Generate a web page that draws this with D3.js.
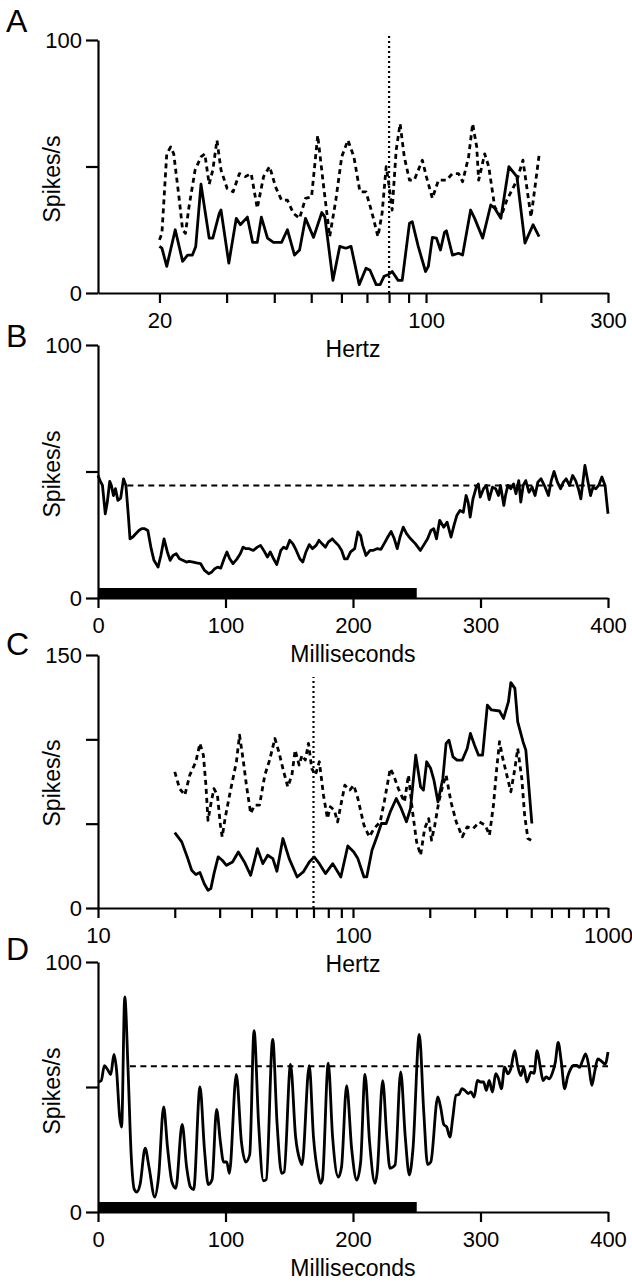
<!DOCTYPE html>
<html><head><meta charset="utf-8">
<script src="https://cdn.jsdelivr.net/npm/d3@7"></script>
<style>
body{margin:0;background:#fff}
text{font-family:"Liberation Sans",Arial,Helvetica,sans-serif;fill:#000}
</style>
</head><body>
<svg id="chart" width="632" height="1282"></svg>
<script>
// ---------------- DATA ----------------
// Panel A: rate (spikes/s) vs modulation frequency (Hz)
const panelA_solid = [[20,18.4],[20.3,17.7],[20.9,10.5],[22.0,25],[23.0,12.5],[23.7,15],[24.4,15],[24.9,18.4],[25.7,43],[26.3,33],[27.0,21.7],[27.6,21.7],[28.7,31.5],[29.0,32.8],[30.4,11.8],[31.8,29.5],[32.6,27],[34.0,30],[35.1,20],[36.1,20],[37.0,30],[38.4,21.7],[39.8,20],[41.8,20],[43.3,25],[45.2,15],[46.6,17],[48.3,29.5],[50.7,22],[53.3,31.8],[54.3,30],[57.0,5],[59.4,18.4],[61.6,17.7],[63.6,18.4],[66.8,3.3],[69.6,9.8],[71.3,9],[74.0,3.3],[75.8,3.3],[77.6,6.6],[79.5,7.2],[81.5,8.5],[84.5,5],[86.6,5],[90.5,27.6],[92.0,28.2],[95.4,18.4],[99.7,8.5],[101.4,10.5],[103.9,22],[106.5,21.7],[109.1,17],[111.8,24],[113.1,24.6],[117.3,15],[121.7,15.7],[124.7,15],[130.9,32.8],[134.1,29.5],[140.8,21.7],[147.8,34.8],[151.4,33.5],[157.1,29.5],[164.9,49.9],[173.1,46],[181.7,19.7],[190.8,27],[197.9,22.3]];
const panelA_dashed = [[20.0,21],[20.3,23.6],[20.9,55],[21.4,57.7],[21.8,55],[22.5,38],[23.0,25],[23.4,23.6],[23.9,34],[24.8,48.6],[25.7,53.8],[26.3,55],[27.0,43],[27.6,48.6],[28.3,60.4],[29.0,48.6],[30.1,41.3],[31.2,40],[32.4,47.2],[33.6,46],[34.8,47.2],[36.1,33.5],[37.5,46],[38.9,50],[40.3,42],[41.8,36.7],[43.3,36.7],[44.9,31.5],[46.6,29.5],[48.3,37.4],[50.1,38],[52.0,62.3],[53.9,42],[55.9,22.3],[58.0,36.7],[60.1,53.8],[62.4,60.4],[64.7,53.8],[67.1,40],[69.6,40],[72.2,31.5],[74.8,22.3],[76.7,31.5],[78.6,49.9],[80.1,42],[81.5,32.8],[83.5,56.4],[85.5,66.9],[87.7,53.8],[90.5,44.6],[93.1,44.6],[97.8,52.5],[100.2,46],[103.9,37.4],[107.8,44.6],[113.1,44.6],[117.3,47.2],[121.7,47.2],[124.7,44],[129.3,53.8],[132.5,66.9],[135.8,57.7],[137.4,44.6],[142.5,55],[146.0,50],[151.4,34],[157.1,30],[162.9,36.7],[173.1,44.6],[179.5,52.5],[188.5,30],[193.1,42],[197.9,54.5]];
const panelA_marker = 80;           // Hz, dotted vertical line
const panelA_xTicks = [20,30,40,50,60,70,80,90,100,200,300];
const panelA_xLabels = [20,100,300];
const panelA_yTicks = [0,50,100];
const panelA_yLabels = [0,100];

// Panel B: rate vs time (ms)
const panelB_solid = [[0,48.4],[1.6,46.4],[3.5,44.5],[5.7,33.3],[7.3,37.9],[9.2,46.1],[10.5,44.5],[12.1,40.5],[13.7,43.2],[15.6,38.6],[17.8,39.5],[20.0,47.1],[21.9,44.5],[23.8,32.6],[25.1,23.4],[27.3,24.1],[29.6,25.4],[32.1,26.7],[34.3,27.4],[36.6,27.4],[39.1,26.7],[41.7,19.5],[43.9,14.9],[47.1,12.2],[49.3,16.8],[51.8,23.4],[54.4,18.2],[56.6,14.9],[58.8,16.8],[61.4,17.5],[63.9,15.5],[66.5,14.9],[69.3,14.2],[71.5,14.5],[74.7,14.2],[77.3,13.9],[80.4,13.6],[83.6,10.9],[86.8,9.6],[89.3,10.3],[91.6,11.6],[93.8,12.2],[96.3,11.8],[98.9,15.5],[101.1,18.2],[103.3,15.5],[105.9,13.6],[109.1,15.5],[111.6,17.5],[113.8,20.1],[116.1,19.5],[118.6,19.5],[121.8,18.8],[125.0,20.1],[127.5,20.8],[130.0,18.8],[132.9,16.2],[135.1,18.2],[137.7,15.5],[140.2,13.2],[143.4,18.8],[145.6,20.1],[147.9,19.5],[150.4,22.8],[152.9,21.4],[155.5,18.8],[158.3,15.5],[160.6,14.2],[163.1,18.2],[165.7,21.1],[168.2,19.5],[171.1,20.8],[173.3,22.8],[175.8,21.4],[178.4,20.1],[180.6,22.1],[183.8,23.4],[186.0,22.1],[188.6,20.8],[191.1,18.8],[193.3,15.5],[195.5,15.5],[198.1,18.2],[201.3,19.5],[203.8,26.1],[206.0,24.7],[207.6,20.8],[210.2,16.8],[213.4,18.8],[215.6,18.8],[218.8,19.5],[221.9,19.2],[225.1,22.1],[227.3,24.1],[229.9,26.3],[232.4,23.4],[234.7,19.5],[236.9,24.1],[239.4,28.0],[242.0,25.4],[245.2,23.4],[249.0,21.4],[252.8,18.8],[255.3,20.8],[258.5,23.4],[261.1,26.7],[263.3,27.4],[265.5,23.4],[268.0,30.7],[271.2,28.0],[273.8,30.0],[276.9,24.1],[279.2,28.7],[281.4,32.6],[283.9,34.6],[286.5,33.9],[288.7,40.5],[290.3,37.9],[291.9,32.0],[294.1,39.2],[296.7,43.8],[298.3,45.1],[299.8,39.9],[302.4,43.2],[304.6,44.5],[306.8,38.9],[309.4,43.8],[311.9,43.2],[314.1,40.5],[315.7,44.5],[318.3,36.6],[319.6,40.5],[321.5,44.5],[323.7,43.2],[325.9,45.1],[327.8,41.2],[330.0,46.4],[331.6,37.9],[333.5,44.5],[335.5,46.4],[338.0,41.8],[340.5,43.8],[342.8,40.5],[345.0,45.8],[347.5,47.1],[350.7,43.8],[353.3,40.5],[355.5,46.4],[357.7,50.0],[360.3,45.8],[362.8,43.2],[365.0,45.8],[367.2,47.1],[369.8,44.5],[372.3,48.4],[374.6,46.4],[376.8,43.2],[378.7,39.2],[380.0,44.5],[381.9,52.4],[384.1,46.4],[386.3,40.5],[388.2,43.8],[390.5,43.2],[392.7,44.5],[395.2,47.8],[397.7,44.5],[400,33.3]];
const panelB_baseline = 44.5;       // spikes/s, dashed reference
const panelB_baselineSpan = [23, 400];
const panelB_stimulus = [0, 250];   // ms, black bar
const panelB_xTicks = [0,100,200,300,400];
const panelB_yTicks = [0,50,100];
const panelB_yLabels = [0,100];

// Panel C: rate vs frequency (Hz)
const panelC_solid = [[20,44.7],[21.3,39.2],[22.5,29.3],[23.3,22.4],[24.2,19.8],[25.1,21],[26.1,14.4],[27.0,10.5],[27.7,11.5],[28.5,20.4],[29.6,30.3],[30.7,28.3],[31.9,25.3],[33.7,27.3],[35.5,33.2],[37.5,27.3],[39.7,19.4],[42.2,35.2],[44.3,26.3],[46.3,31.3],[48.5,29.3],[50.3,21.8],[53.1,41.2],[56.2,29.3],[60.4,18.4],[63.8,21.4],[67.4,27.3],[70.4,30.3],[73.8,26.3],[78.0,20.4],[83.3,26.3],[89.6,18.4],[95.4,36.8],[100.7,33.2],[104.5,29.3],[110.4,18.4],[113.2,18.4],[118.7,34.2],[124.1,42.2],[129.2,50.1],[134.9,50.1],[140.0,57],[147.8,64.9],[154.5,59],[162.0,51.1],[168.1,59],[176.2,90.6],[184.1,71.8],[188.9,69.9],[194.5,86.7],[201.7,82.7],[207.7,75.8],[215.4,62.9],[225.1,76.8],[231.8,97.6],[237.8,99.5],[246.7,89.6],[255.9,87.7],[268.3,87.7],[280.4,94.6],[288.7,103.5],[299.5,96.6],[310.7,90.6],[322.2,90.6],[336.5,120.3],[349.1,117.4],[375.5,116.8],[389.5,112.4],[407.0,122.3],[415.9,133.6],[431.4,130.2],[442.6,110.4],[464.2,98.6],[476.2,93.6],[502.9,50.1]];
const panelC_dashed = [[20.0,80.7],[20.9,70.8],[21.9,66.9],[22.9,78.8],[24.2,86.7],[25.1,97.6],[25.9,90.6],[26.5,72.8],[27.0,52],[27.8,62.9],[28.5,70.8],[29.4,66.9],[30.2,49.1],[30.7,42.2],[31.5,53],[33.0,68.9],[34.9,86.7],[35.9,102.5],[37.1,87.7],[38.2,72.8],[39.7,56],[41.1,61],[43.0,61],[45.1,78.8],[47.1,87.7],[49.4,100.5],[51.2,92.6],[53.5,80.7],[55.5,71.8],[57.6,78.8],[59.3,93.6],[61.5,84.7],[63.1,90.6],[65.0,87.7],[66.9,97.6],[68.9,82.7],[71.2,78.8],[73.8,86.7],[76.6,66.9],[79.4,53],[81.5,60],[84.5,58],[87.0,51],[89.6,61],[92.9,72.8],[97.1,69.9],[100.7,72.8],[104.5,64.9],[110.4,49.1],[115.8,42.2],[120.9,47.1],[127.8,51],[132.6,62.9],[140.0,82.7],[144.2,78.8],[150.6,70.8],[159.1,62.9],[165.0,78.8],[171.2,57],[177.6,39.2],[184.1,31.3],[191.0,47.1],[198.1,53],[203.2,40.2],[209.3,49.1],[217.0,62.9],[225.1,72.8],[231.8,78.8],[242.2,62.9],[254.1,51],[268.3,42.2],[280.4,48.1],[296.1,47.1],[312.8,51],[330.4,49.1],[342.8,43.1],[355.5,61],[366.1,82.7],[375.5,98.6],[386.7,88.7],[401.1,78.8],[415.9,68.9],[431.4,82.7],[442.6,94.6],[459.1,76.8],[471.0,55],[485.1,41.2],[499.5,40.2]];
const panelC_marker = 70;           // Hz
const panelC_markerTop = 137;
const panelC_xTicks = [10,20,30,40,50,60,70,80,90,100,200,300,400,500,600,700,800,900,1000];
const panelC_xLabels = [10,100,1000];
const panelC_yTicks = [0,50,100,150];
const panelC_yLabels = [0,150];

// Panel D: rate vs time (ms)
const panelD_solid = [[0,52],[2.5,52.5],[5,58.5],[7.5,57],[10,55],[12.5,63],[14.5,57],[17,38],[18.5,34],[21,86],[23.5,58],[26,23],[28.5,9],[30.5,8],[33,11],[37,25.5],[40,18],[44.5,6],[47.5,14],[51.5,42],[54.5,26],[58,12],[61,9.5],[66,35],[69.5,18],[72.5,10],[75,9],[80,50],[83.5,25],[86.5,11],[89.5,13],[93,41],[96,28],[98.5,20],[101,20],[103,15.5],[108.5,55],[112.5,28],[116,20],[119,23],[122.4,72.5],[126,35],[129.7,12.5],[132,13],[137,69],[140.5,35],[144,15.5],[146,16],[151,59],[155,30],[158.5,20.5],[160,19],[165.7,58.5],[169,30],[172.8,14.8],[174.6,11.5],[176,13],[180.6,59.5],[184,30],[188.5,14],[191,18],[195,50.5],[199,25],[202.9,12.8],[206,20],[209.4,55],[213,28],[217.3,11.5],[219,16],[223.3,52.5],[226.5,30],[229,17.5],[233,18.8],[237.4,56],[241,30],[244.2,14.8],[247,25],[252,71],[255.5,40],[258.5,19],[261,20],[266.5,46],[268.7,42],[271.2,35],[273.5,34],[276,30],[278.2,37.5],[280.8,46.7],[283,47],[285.5,49.3],[288,48.5],[290.3,47.4],[292.5,48],[295,46],[297.6,52.6],[300,52],[302.4,52],[304.6,48.7],[306.8,52.6],[309.4,48],[311.9,55.3],[314,53.5],[316.4,49.3],[318.9,57.9],[321.5,55.3],[323.7,57.2],[326.9,64.5],[329.1,58.6],[331.6,54.6],[333.9,57.9],[336.4,52],[339.6,55.9],[342,55.5],[344.4,64.5],[346.9,57.9],[349.1,52.6],[351.5,54],[353.9,53.3],[356.3,55.5],[358.7,59.9],[360.9,67.8],[363.4,59.9],[366,49.3],[368.2,53.9],[370.5,57],[373,58.6],[375.5,58.6],[377.7,57.9],[380,60.5],[382.5,63.2],[385.1,57.9],[387.3,50.7],[389.5,55.9],[392,61.2],[394.5,60.5],[397.8,59.2],[400,64]];
const panelD_baseline = 58.3;
const panelD_baselineSpan = [25, 400];
const panelD_stimulus = [0, 250];
const panelD_xTicks = [0,100,200,300,400];
const panelD_yTicks = [0,50,100];
const panelD_yLabels = [0,100];

const yTitle = "Spikes/s";

// ---------------- DRAWING ----------------
const svg = d3.select("#chart");
const LEFT = 98, RIGHT = 608;
const FONT_TICK = 22, FONT_TITLE = 23, FONT_LETTER = 32;

function drawPanel(p) {
  const g = svg.append("g");
  const y = d3.scaleLinear().domain(p.yDomain).range([p.bottom, p.top]);
  const x = p.x;

  // x axis
  const xa = d3.axisBottom(x).tickValues(p.xTicks).tickSize(10).tickSizeOuter(0)
    .tickFormat(d => p.xLabels.includes(d) ? d3.format("d")(d) : "");
  const gx = g.append("g").attr("transform", `translate(0,${p.bottom})`).call(xa);
  gx.select(".domain").attr("stroke", "#000").attr("stroke-width", 2.2);
  gx.selectAll(".tick line").attr("stroke", "#000").attr("stroke-width", 2.2);
  gx.selectAll(".tick text").attr("y", 35).attr("dy", 0)
    .style("font-size", FONT_TICK + "px");

  // y axis
  const ya = d3.axisLeft(y).tickValues(p.yTicks).tickSize(12).tickSizeOuter(0)
    .tickFormat(d => p.yLabels.includes(d) ? d : "");
  const gy = g.append("g").attr("transform", `translate(${LEFT},0)`).call(ya);
  gy.select(".domain").attr("stroke", "#000").attr("stroke-width", 2.2);
  gy.selectAll(".tick line").attr("stroke", "#000").attr("stroke-width", 2.2);
  gy.selectAll(".tick text").attr("x", -16).attr("dy", "0.36em")
    .style("font-size", FONT_TICK + "px");
  g.selectAll(".tick text").attr("fill", "#000").style("font-family", "'Liberation Sans',Arial,sans-serif");

  // stimulus bar
  if (p.bar) {
    g.append("rect").attr("x", x(p.bar[0])).attr("width", x(p.bar[1]) - x(p.bar[0]))
      .attr("y", p.bottom - 10).attr("height", 10).attr("fill", "#000");
  }
  // dashed baseline
  if (p.hline !== undefined) {
    g.append("line").attr("x1", x(p.hspan[0])).attr("x2", x(p.hspan[1]))
      .attr("y1", y(p.hline)).attr("y2", y(p.hline))
      .attr("stroke", "#000").attr("stroke-width", 2).attr("stroke-dasharray", "6,4.5");
  }
  // series
  p.series.forEach(s => {
    const line = d3.line().x(d => x(d[0])).y(d => y(d[1])).curve(s.curve || d3.curveLinear);
    g.append("path").datum(s.data).attr("d", line).attr("fill", "none")
      .attr("stroke", "#000").attr("stroke-width", s.width || 2.8)
      .attr("stroke-linejoin", "round")
      .attr("stroke-dasharray", s.dash || null);
  });
  // dotted marker
  if (p.marker !== undefined) {
    g.append("line").attr("x1", x(p.marker)).attr("x2", x(p.marker))
      .attr("y1", y(0)).attr("y2", y(p.markerTop))
      .attr("stroke", "#000").attr("stroke-width", 2.2).attr("stroke-dasharray", "2,3");
  }
  // titles
  g.append("text").attr("x", (LEFT + RIGHT) / 2).attr("y", p.bottom + 64)
    .attr("text-anchor", "middle").style("font-size", FONT_TITLE + "px").text(p.xTitle);
  g.append("text").attr("transform", `translate(60,${p.yTitleY}) rotate(-90)`)
    .attr("text-anchor", "middle").style("font-size", FONT_TITLE + "px").text(yTitle);
  g.append("text").attr("x", 6).attr("y", p.letterY)
    .style("font-size", FONT_LETTER + "px").text(p.letter);
}

drawPanel({
  letter: "A", letterY: 32, top: 40, bottom: 293,
  x: d3.scaleLog().domain([13.8, 300]).range([LEFT, RIGHT]),
  xTicks: panelA_xTicks, xLabels: panelA_xLabels,
  yDomain: [0, 100], yTicks: panelA_yTicks, yLabels: panelA_yLabels,
  xTitle: "Hertz", yTitleY: 179,
  series: [{data: panelA_dashed, dash: "5,4"}, {data: panelA_solid}],
  marker: panelA_marker, markerTop: 102
});
drawPanel({
  letter: "B", letterY: 347, top: 345, bottom: 598,
  x: d3.scaleLinear().domain([0, 400]).range([LEFT, RIGHT]),
  xTicks: panelB_xTicks, xLabels: panelB_xTicks,
  yDomain: [0, 100], yTicks: panelB_yTicks, yLabels: panelB_yLabels,
  xTitle: "Milliseconds", yTitleY: 474,
  series: [{data: panelB_solid}],
  hline: panelB_baseline, hspan: panelB_baselineSpan, bar: panelB_stimulus
});
drawPanel({
  letter: "C", letterY: 655, top: 655, bottom: 908,
  x: d3.scaleLog().domain([10, 1000]).range([LEFT, RIGHT]),
  xTicks: panelC_xTicks, xLabels: panelC_xLabels,
  yDomain: [0, 150], yTicks: panelC_yTicks, yLabels: panelC_yLabels,
  xTitle: "Hertz", yTitleY: 783,
  series: [{data: panelC_dashed, dash: "5,4"}, {data: panelC_solid}],
  marker: panelC_marker, markerTop: panelC_markerTop
});
drawPanel({
  letter: "D", letterY: 960, top: 962, bottom: 1212,
  x: d3.scaleLinear().domain([0, 400]).range([LEFT, RIGHT]),
  xTicks: panelD_xTicks, xLabels: panelD_xTicks,
  yDomain: [0, 100], yTicks: panelD_yTicks, yLabels: panelD_yLabels,
  xTitle: "Milliseconds", yTitleY: 1091,
  series: [{data: panelD_solid, curve: d3.curveMonotoneX}],
  hline: panelD_baseline, hspan: panelD_baselineSpan, bar: panelD_stimulus
});
</script>
</body></html>
